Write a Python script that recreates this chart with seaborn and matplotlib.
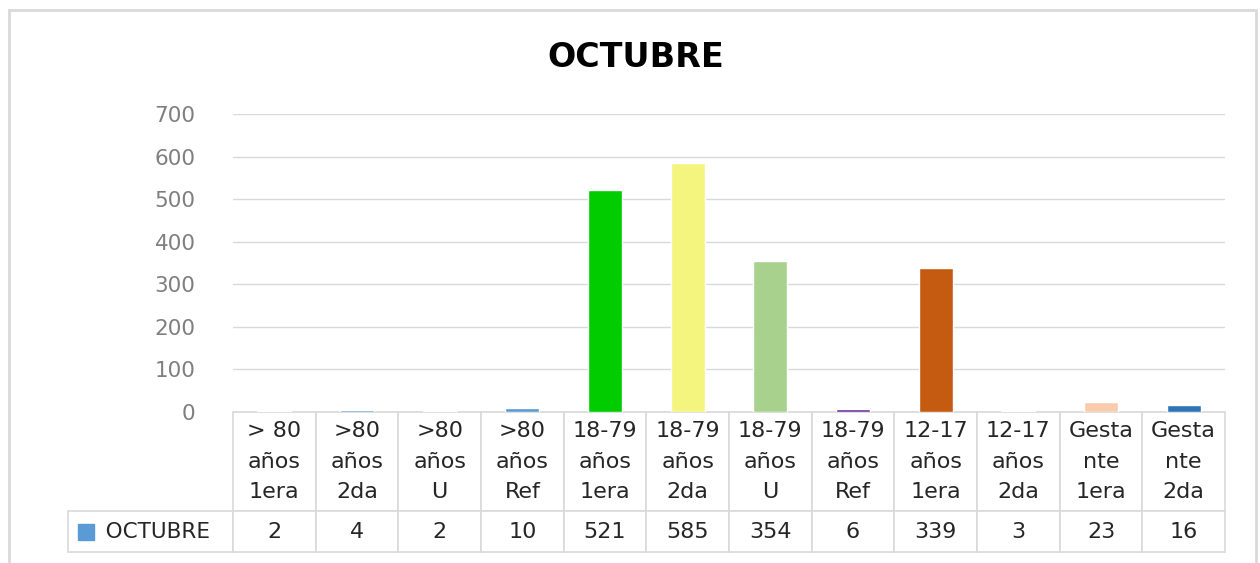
import numpy as np
import pandas as pd
import matplotlib
matplotlib.use('Agg')
from matplotlib import pyplot as plt
from matplotlib.patches import Rectangle
import seaborn as sns

sns.set_style('white')
plt.rcParams['font.family'] = ['DejaVu Sans']

# data
categorias = ['> 80\naños\n1era', '>80\naños\n2da', '>80\naños\nU', '>80\naños\nRef',
              '18-79\naños\n1era', '18-79\naños\n2da', '18-79\naños\nU', '18-79\naños\nRef',
              '12-17\naños\n1era', '12-17\naños\n2da', 'Gesta\nnte\n1era', 'Gesta\nnte\n2da']
octubre = [2, 4, 2, 10, 521, 585, 354, 6, 339, 3, 23, 16]
colores = ['#5B9BD5', '#5B9BD5', '#5B9BD5', '#5B9BD5', '#00CC00', '#F4F57F',
           '#A9D18E', '#7030A0', '#C55A11', '#5B9BD5', '#F8CBAD', '#2E75B6']
serie = 'OCTUBRE'
yticks = [0, 100, 200, 300, 400, 500, 600, 700]

df = pd.DataFrame({'cat': categorias, 'val': octubre})

fig = plt.figure(figsize=(12.6, 5.63), dpi=100)
ax = fig.add_axes([233/1260, 1 - 412/563, (1225-233)/1260, (412-114)/563])

# outer chart border
fig.patches.append(Rectangle((9/1260, -0.05), (1256-9)/1260, 1 - 10/563 + 0.05,
                             transform=fig.transFigure, fill=False,
                             edgecolor='#d9d9d9', linewidth=2))

sns.barplot(data=df, x='cat', y='val', hue='cat', palette=colores,
            width=0.41, legend=False, ax=ax, saturation=1)

ax.set_ylim(0, 700)
ax.set_xlim(-0.5, 11.5)
ax.set_yticks(yticks)
ax.set_yticklabels([str(t) for t in yticks], color='#7f7f7f', fontsize=15.5)
ax.tick_params(axis='y', length=0, pad=27)
ax.set_xticks([])
ax.set_xlabel('')
ax.set_ylabel('')
ax.yaxis.grid(True, color='#d9d9d9', linewidth=1)
ax.set_axisbelow(True)
for s in ax.spines.values():
    s.set_visible(False)

fig.text(636/1260, 1 - 58/563, serie, ha='center', va='center',
         fontsize=24, fontweight='bold', color='black')

# data table under the axis (bbox covers only the data columns)
tab = ax.table(cellText=[[str(v) for v in octubre]],
               colLabels=categorias,
               colWidths=[1/12]*12,
               cellLoc='center',
               bbox=[0, -0.47, 1, 0.47])
tab.auto_set_font_size(False)
tab.add_cell(1, -1, width=0.166, height=0.29, text='   ' + serie, loc='left')
for (r, c), cell in tab.get_celld().items():
    cell.set_edgecolor('#d9d9d9')
    cell.set_linewidth(1.2)
    cell.get_text().set_fontsize(16)
    if r == 0:
        cell.set_height(0.71)
        cell.get_text().set_linespacing(1.65)
    else:
        cell.set_height(0.29)
    if c == -1:
        cell.get_text().set_fontsize(15.5)

# legend key square in the row label cell
ax.plot([-0.148], [-0.403], marker='s', markersize=12, color='#5B9BD5',
        transform=ax.transAxes, clip_on=False, linestyle='none')

fig.savefig('out.png', dpi=100)
